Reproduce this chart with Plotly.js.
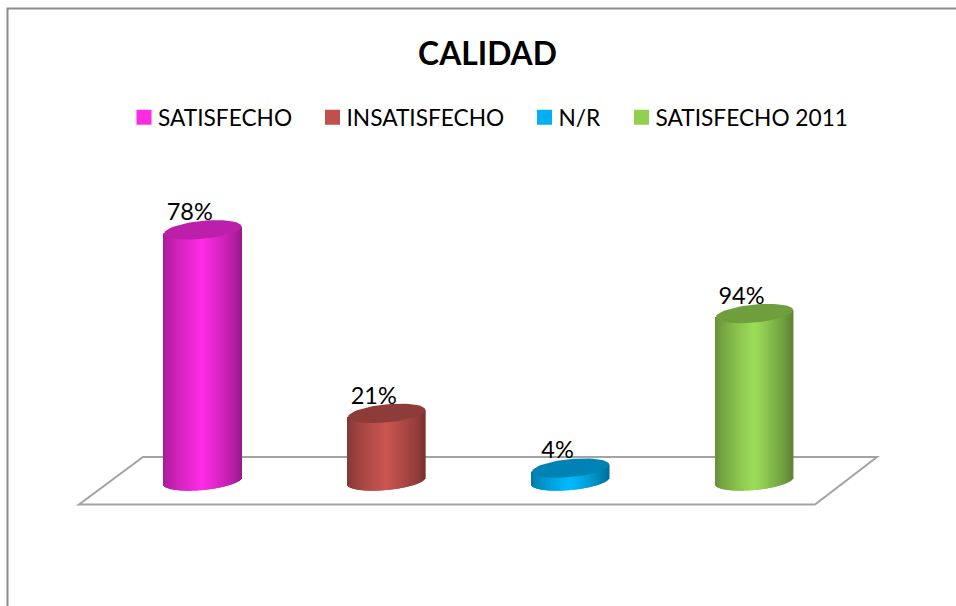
<!DOCTYPE html>
<html>
<head>
<meta charset="utf-8">
<script src="https://cdn.plot.ly/plotly-3.0.1.min.js"></script>
<style>html,body{margin:0;padding:0;background:#fff}#chart{width:956px;height:606px}</style>
</head>
<body>
<div id="chart"></div>
<script>
// Data
const titleText = "CALIDAD";
const categories = ["SATISFECHO", "INSATISFECHO", "N/R", "SATISFECHO 2011"];
const plottedHeights = [78, 21, 4, 52];       // height of the column as drawn in the reference
const dataLabels = ["78%", "21%", "4%", "94%"]; // label as printed in the reference
const legendColors = ["#FF2BE3", "#C0504D", "#00B0F0", "#92D050"];
const bodyColors = ["#FF2BE6", "#CB5551", "#00BBFF", "#9CDD58"];
const capColors = ["#BC20AA", "#8E3C39", "#0083B4", "#6F9E3D"];
const legendLeftPx = [136.5, 325, 537, 634];

// Layout / projection
const W = 956, H = 606;
const pxPerCat = 183.9, firstCatPx = 202.8, basePx = 481, pxPerUnit = 3.22;
const sx = p => (p - firstCatPx) / pxPerCat;
const sy = p => (basePx - p) / pxPerUnit;
const halfWidth = 38.6 / pxPerCat;
const capB = 9 / pxPerUnit, capTilt = 3.5 / pxPerUnit;
const stripCount = 78;

function shade(hex, f) {
  const n = parseInt(hex.slice(1), 16);
  const c = [n >> 16, (n >> 8) & 255, n & 255].map(v => Math.round(v * f));
  return `rgb(${c[0]},${c[1]},${c[2]})`;
}
const centerLine = (v, u) => v + capTilt * u;
const lowerEdge = (v, u) => centerLine(v, u) - capB * Math.sqrt(Math.max(0, 1 - u * u));

const traces = [];
// cylinder bodies: vertical shaded strips, drawn as bars
categories.forEach((name, i) => {
  const v = plottedHeights[i];
  const xs = [], base = [], hs = [], cols = [];
  for (let k = 0; k < stripCount; k++) {
    const u = -1 + (2 * k + 1) / stripCount;
    const bottom = lowerEdge(0, u);
    const top = centerLine(v, u);
    xs.push(i + u * halfWidth);
    base.push(bottom);
    hs.push(top - bottom);
    const f = 0.64 + 0.36 * Math.pow(1 - Math.abs(u), 0.75) - (u > 0 ? 0.05 * u : 0);
    cols.push(shade(bodyColors[i], f));
  }
  traces.push({
    type: "bar", x: xs, y: hs, base: base, width: 1.7 / pxPerCat,
    marker: { color: cols, line: { width: 0 } },
    showlegend: false, hoverinfo: "skip", name: name
  });
});
// data labels
categories.forEach((name, i) => {
  traces.push({
    type: "scatter", mode: "text",
    x: [i - 13 / pxPerCat], y: [plottedHeights[i] + 15.5 / pxPerUnit],
    text: [dataLabels[i]], textposition: "middle center",
    textfont: { family: "Lato, Carlito, sans-serif", size: 23.5, color: "#000" },
    showlegend: false, hoverinfo: "skip", cliponaxis: false
  });
});
// cylinder caps
categories.forEach((name, i) => {
  const v = plottedHeights[i];
  const xs = [], ys = [];
  for (let a = 0; a <= 72; a++) {
    const t = a / 72 * 2 * Math.PI;
    const u = Math.cos(t);
    xs.push(i + u * halfWidth);
    ys.push(centerLine(v, u) + capB * Math.sin(t));
  }
  traces.push({
    type: "scatter", mode: "lines", x: xs, y: ys, fill: "toself",
    fillcolor: capColors[i], line: { width: 0, color: capColors[i] },
    showlegend: false, hoverinfo: "skip"
  });
});
// legend entries, one legend per category so each sits at its own position
const legendKeys = ["legend", "legend2", "legend3", "legend4"];
categories.forEach((name, i) => {
  traces.push({
    type: "scatter", mode: "markers", x: [null], y: [null], name: name,
    legend: legendKeys[i], showlegend: true,
    marker: { symbol: "square", size: 15, color: legendColors[i], line: { width: 0 } }
  });
});

const layout = {
  width: W, height: H,
  margin: { l: 0, r: 0, t: 0, b: 0, pad: 0 },
  paper_bgcolor: "#fff", plot_bgcolor: "#fff",
  barmode: "overlay", showlegend: true,
  title: {
    text: "<b>" + titleText + "</b>",
    font: { family: "Lato, Carlito, sans-serif", size: 31.8, color: "#000" },
    x: 487.5 / W, xref: "paper", xanchor: "center",
    y: 1 - 53.5 / H, yref: "container", yanchor: "middle"
  },
  xaxis: { range: [sx(0), sx(W)], visible: false, fixedrange: true },
  yaxis: { range: [sy(H), sy(0)], visible: false, fixedrange: true },
  shapes: [
    { // floor of the 3D plot
      type: "path", layer: "below", xref: "x", yref: "y",
      path: "M " + sx(143) + " " + sy(457) + " L " + sx(877) + " " + sy(457) +
            " L " + sx(815) + " " + sy(504.5) + " L " + sx(79) + " " + sy(504.5) + " Z",
      line: { color: "#a3a3a3", width: 2 }, fillcolor: "rgba(0,0,0,0)"
    },
    { // chart frame, top and left edges
      type: "path", layer: "below", xref: "paper", yref: "paper",
      path: "M " + 7.5 / W + " 0 L " + 7.5 / W + " " + (1 - 8.5 / H) + " L 1 " + (1 - 8.5 / H),
      line: { color: "#8c8c8c", width: 2 }, fillcolor: "rgba(0,0,0,0)"
    }
  ]
};
legendKeys.forEach((key, i) => {
  layout[key] = {
    x: (legendLeftPx[i] - 18.5) / W, xanchor: "left",
    y: 1 - 117.5 / H, yanchor: "middle",
    bgcolor: "rgba(0,0,0,0)", borderwidth: 0,
    font: { family: "Lato, Carlito, sans-serif", size: 22.7, color: "#000" },
    itemclick: false, itemdoubleclick: false
  };
});

Plotly.newPlot("chart", traces, layout, { displayModeBar: false, staticPlot: false }).then(gd => {
  // Office legend keys sit closer to their text than Plotly's default
  gd.querySelectorAll(".legendsymbols").forEach(s => s.setAttribute("transform", "translate(6,0)"));
});
</script>
</body>
</html>
